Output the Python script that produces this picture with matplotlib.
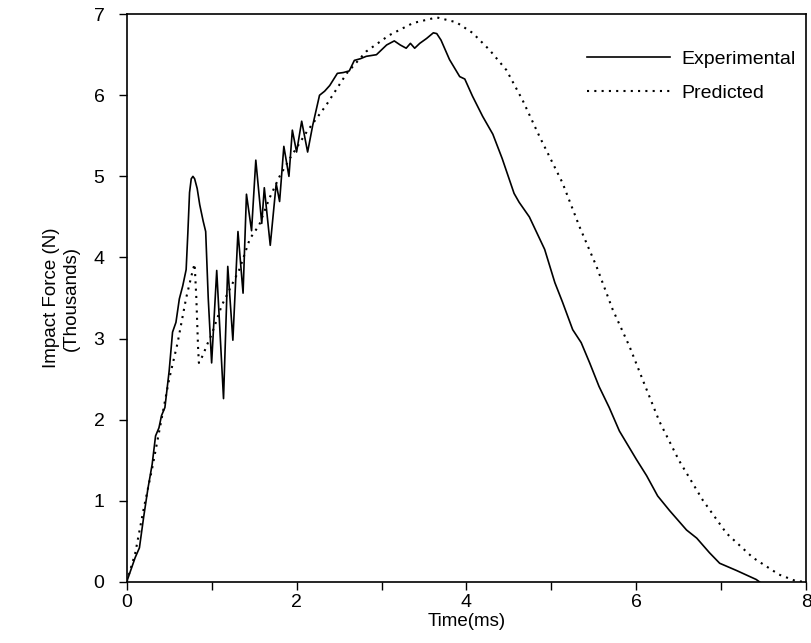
import matplotlib.pyplot as plt

# Experimental impact force (thousands of N) vs time (ms)
t_exp = [0, 0.05, 0.1, 0.15, 0.2, 0.25, 0.3, 0.34, 0.38, 0.41, 0.45, 0.5, 0.54, 0.58,
         0.62, 0.66, 0.7, 0.72, 0.74, 0.76, 0.78, 0.8, 0.83, 0.86, 0.9, 0.93, 0.96, 1.0,
         1.06, 1.14, 1.19, 1.25, 1.31, 1.37, 1.41, 1.47, 1.52, 1.59, 1.62, 1.69, 1.76,
         1.80, 1.85, 1.91, 1.95, 2.0, 2.06, 2.13, 2.19, 2.27, 2.33, 2.39, 2.48, 2.55,
         2.62, 2.68, 2.75, 2.82, 2.94, 3.06, 3.15, 3.22, 3.29, 3.34, 3.39, 3.45, 3.53,
         3.61, 3.65, 3.7, 3.8, 3.92, 3.98, 4.07, 4.19, 4.31, 4.42, 4.56, 4.62, 4.74,
         4.92, 5.04, 5.13, 5.25, 5.35, 5.45, 5.56, 5.68, 5.8, 6.0, 6.12, 6.25, 6.39,
         6.59, 6.71, 6.86, 6.98, 7.18, 7.41, 7.45]
f_exp = [0, 0.15, 0.3, 0.42, 0.8, 1.15, 1.45, 1.8, 1.9, 2.05, 2.15, 2.6, 3.08, 3.2,
         3.49, 3.65, 3.85, 4.3, 4.8, 4.97, 5.0, 4.97, 4.85, 4.65, 4.45, 4.32, 3.5, 2.7,
         3.84, 2.26, 3.89, 2.98, 4.32, 3.56, 4.78, 4.33, 5.2, 4.42, 4.86, 4.15, 4.91,
         4.69, 5.37, 5.0, 5.57, 5.3, 5.68, 5.3, 5.63, 6.0, 6.05, 6.12, 6.27, 6.28,
         6.3, 6.43, 6.45, 6.48, 6.5, 6.62, 6.67, 6.62, 6.58, 6.64, 6.58, 6.64, 6.7,
         6.77, 6.76, 6.68, 6.44, 6.23, 6.2, 5.99, 5.74, 5.52, 5.22, 4.79, 4.68, 4.5,
         4.1, 3.69, 3.45, 3.11, 2.95, 2.7, 2.41, 2.15, 1.86, 1.51, 1.31, 1.06, 0.88,
         0.64, 0.54, 0.36, 0.23, 0.14, 0.03, 0.0]

# Predicted
t_pred = [0, 0.1, 0.2, 0.3, 0.4, 0.5, 0.6, 0.7, 0.78, 0.8, 0.82, 0.84, 0.85, 0.9,
          0.94, 1.0, 1.12, 1.33, 1.45, 1.56, 1.68, 1.8, 1.92, 2.12, 2.35, 2.59, 2.82,
          3.09, 3.37, 3.65, 3.88, 4.07, 4.27, 4.47, 4.66, 4.86, 5.13, 5.33, 5.53, 5.72,
          5.92, 6.09, 6.27, 6.5, 6.78, 7.06, 7.37, 7.68, 7.88, 8.0]
f_pred = [0, 0.35, 0.9, 1.4, 1.95, 2.5, 2.95, 3.5, 3.85, 3.92, 3.5, 2.9, 2.7, 2.8,
          2.91, 3.05, 3.41, 3.86, 4.23, 4.4, 4.73, 5.0, 5.22, 5.55, 5.88, 6.27, 6.54,
          6.74, 6.89, 6.96, 6.9, 6.77, 6.56, 6.31, 5.94, 5.49, 4.92, 4.38, 3.89, 3.36,
          2.9, 2.45, 1.98, 1.5, 1.01, 0.6, 0.3, 0.09, 0.01, 0.0]

x_ticks = [0, 1, 2, 3, 4, 5, 6, 7, 8]
x_labels = ['0', '', '2', '', '4', '', '6', '', '8']
y_ticks = [0, 1, 2, 3, 4, 5, 6, 7]

plt.rcParams['font.family'] = ['Liberation Sans', 'DejaVu Sans']

fig = plt.figure(figsize=(8.12, 6.43), dpi=100)
ax = fig.add_axes([0.156, 0.095, 0.837, 0.883])

ax.plot(t_exp, f_exp, color='black', lw=1.2, label='Experimental')
ax.plot(t_pred, f_pred, color='black', lw=1.5, linestyle=(0, (1, 2.5)), label='Predicted')

ax.set_xlim(0, 8)
ax.set_ylim(0, 7)
ax.set_xticks(x_ticks)
ax.set_xticklabels(x_labels)
ax.set_yticks(y_ticks)
ax.tick_params(direction='out', length=6, width=1, labelsize=14)
ax.tick_params(axis='y', pad=10)
ax.tick_params(axis='x', pad=3)
for s in ax.spines.values():
    s.set_linewidth(1.2)

ax.set_xlabel('Time(ms)', fontsize=13.5, labelpad=1)
ax.set_ylabel('Impact Force (N)\n(Thousands)', fontsize=13.5, labelpad=10)

ax.legend(loc='upper right', frameon=False, fontsize=14, handlelength=4.3,
          handletextpad=0.55, labelspacing=0.85, borderpad=0, borderaxespad=0,
          bbox_to_anchor=(0.984, 0.937))

plt.savefig('out.png', dpi=100)
